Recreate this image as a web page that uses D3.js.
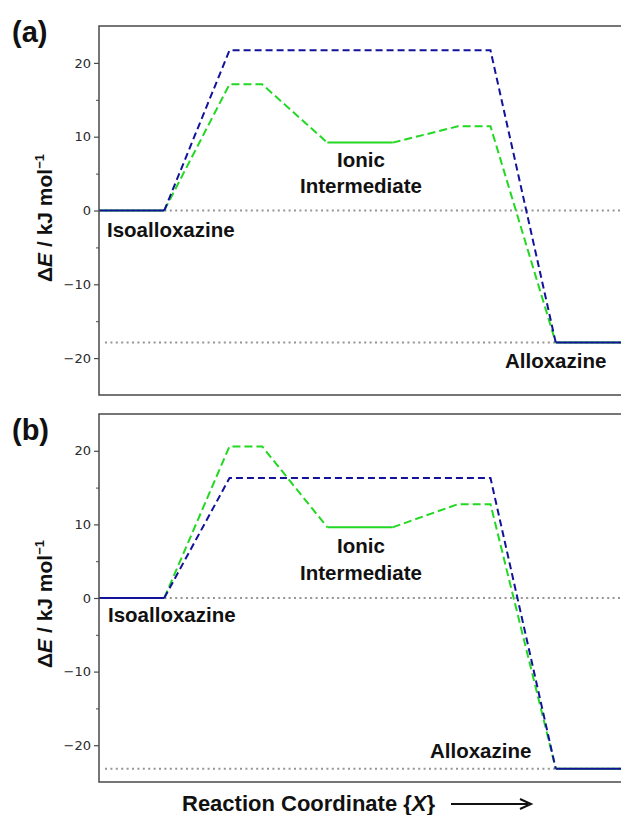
<!DOCTYPE html>
<html><head><meta charset="utf-8">
<script src="https://cdn.jsdelivr.net/npm/d3@7"></script>
<style>body{margin:0;background:#fff}svg{display:block}</style>
</head><body>
<svg id="chart" width="621" height="815"></svg>
<script>
// ---- data ----
const xCoord   = [0, 2, 4, 5, 7, 9, 11, 12, 14, 16];
const blueA    = [0, 0, 21.7, 21.7, 21.7, 21.7, 21.7, 21.7, -17.9, -17.9];
const greenA   = [0, 0, 17.1, 17.1, 9.2, 9.2, 11.4, 11.4, -17.9, -17.9];
const blueB    = [0, 0, 16.3, 16.3, 16.3, 16.3, 16.3, 16.3, -23.2, -23.2];
const greenB   = [0, 0, 20.6, 20.6, 9.6, 9.6, 12.75, 12.75, -23.2, -23.2];
const blueSeg  = ["solid","dashed","dashed","dashed","dashed","dashed","dashed","dashed","solid"];
const greenSeg = ["solid","dashed","dashed","dashed","solid","dashed","dashed","dashed","solid"];
const yTicks   = [-20, -10, 0, 10, 20];
const yMinor   = [-15, -5, 5, 15];
const panelLabels = ["(a)", "(b)"];
const stateLabels = ["Isoalloxazine", "Ionic", "Intermediate", "Alloxazine"];

const svg = d3.select("#chart");
const W = 621;
const x = d3.scaleLinear().domain([0, 16]).range([99, 621]);
const BLUE = "#12129a", GREEN = "#22d822";

const panels = [
  {top: 26, bottom: 395, blue: blueA, green: greenA, label: panelLabels[0], lab: [12, 42],
   ylabY: 218, iso: [107, 237], ionic: [361, 166.5], inter: [361, 193], allox: [505, 368]},
  {top: 414, bottom: 782, blue: blueB, green: greenB, label: panelLabels[1], lab: [12, 440],
   ylabY: 604, iso: [108, 622], ionic: [361, 553], inter: [361, 579.5], allox: [430, 758]}
];

function drawSeries(g, y, vals, seg, color, dash) {
  let i = 0;
  while (i < seg.length) {
    let j = i;
    while (j + 1 < seg.length && seg[j + 1] === seg[i]) j++;
    const pts = d3.range(i, j + 2).map(k => [x(xCoord[k]), y(vals[k])]);
    g.append("path")
      .attr("d", d3.line()(pts))
      .attr("fill", "none")
      .attr("stroke", color)
      .attr("stroke-width", 2)
      .attr("stroke-dasharray", seg[i] === "dashed" ? dash : null);
    i = j + 1;
  }
}

panels.forEach(p => {
  const y = d3.scaleLinear().domain([-25, 25]).range([p.bottom, p.top]);
  const g = svg.append("g");
  const ends = p.blue[p.blue.length - 1];

  // dotted reference lines
  [0, ends].forEach(v => {
    g.append("line").attr("x1", 105).attr("x2", W).attr("y1", y(v)).attr("y2", y(v))
      .attr("stroke", "#959595").attr("stroke-width", 2).attr("stroke-dasharray", "2,3.4");
  });

  drawSeries(g, y, p.green, greenSeg, GREEN, "8,4");
  drawSeries(g, y, p.blue, blueSeg, BLUE, "7,4");

  // frame
  g.append("path")
    .attr("d", `M${W + 1},${p.top}H99V${p.bottom}H${W + 1}`)
    .attr("fill", "none").attr("stroke", "#4a4a4a").attr("stroke-width", 1.5);

  // axis
  const ax = g.append("g").attr("transform", "translate(99,0)")
    .call(d3.axisLeft(y).tickValues(yTicks).tickSize(5).tickPadding(3)
      .tickFormat(d => d < 0 ? "\u2212" + Math.abs(d) : d));
  ax.select(".domain").remove();
  ax.selectAll("line").attr("stroke", "#4a4a4a").attr("stroke-width", 1.2);
  ax.selectAll("text").attr("font-family", "DejaVu Sans").attr("font-size", 13).attr("fill", "#2a2a2a");
  const axm = g.append("g").attr("transform", "translate(99,0)")
    .call(d3.axisLeft(y).tickValues(yMinor).tickSize(3).tickFormat(""));
  axm.select(".domain").remove();
  axm.selectAll("line").attr("stroke", "#4a4a4a").attr("stroke-width", 1);

  // y label
  const yl = g.append("text")
    .attr("transform", `translate(52,${p.ylabY}) rotate(-90)`)
    .attr("text-anchor", "middle")
    .attr("font-family", "Liberation Sans, Arial, sans-serif")
    .attr("font-weight", "bold").attr("font-size", 21).attr("fill", "#111");
  yl.append("tspan").text("\u0394");
  yl.append("tspan").attr("font-style", "italic").text("E");
  yl.append("tspan").text(" / kJ mol");
  yl.append("tspan").attr("font-size", 13).attr("dy", -8).text("\u22121");

  // panel label
  g.append("text").attr("x", p.lab[0]).attr("y", p.lab[1])
    .attr("font-family", "Liberation Sans, Arial, sans-serif")
    .attr("font-weight", "bold").attr("font-size", 29).attr("fill", "#111").text(p.label);

  // state labels
  const lf = t => t.attr("font-family", "Liberation Sans, Arial, sans-serif")
    .attr("font-weight", "bold").attr("font-size", 20.5).attr("fill", "#111");
  lf(g.append("text").attr("x", p.iso[0]).attr("y", p.iso[1]).text(stateLabels[0]));
  lf(g.append("text").attr("x", p.ionic[0]).attr("y", p.ionic[1]).attr("text-anchor", "middle").text(stateLabels[1]));
  lf(g.append("text").attr("x", p.inter[0]).attr("y", p.inter[1]).attr("text-anchor", "middle").text(stateLabels[2]));
  lf(g.append("text").attr("x", p.allox[0]).attr("y", p.allox[1]).text(stateLabels[3]));
});

// x label
const xl = svg.append("text").attr("x", 182).attr("y", 811)
  .attr("font-family", "Liberation Sans, Arial, sans-serif")
  .attr("font-weight", "bold").attr("font-size", 22).attr("fill", "#111");
xl.append("tspan").text("Reaction Coordinate {");
xl.append("tspan").attr("font-style", "italic").text("X");
xl.append("tspan").text("}");

// arrow
svg.append("line").attr("x1", 451).attr("x2", 528).attr("y1", 804).attr("y2", 804)
  .attr("stroke", "#111").attr("stroke-width", 2);
svg.append("path").attr("d", "M520,799 L531,804 L520,809")
  .attr("fill", "none").attr("stroke", "#111").attr("stroke-width", 2);
</script>
</body></html>
